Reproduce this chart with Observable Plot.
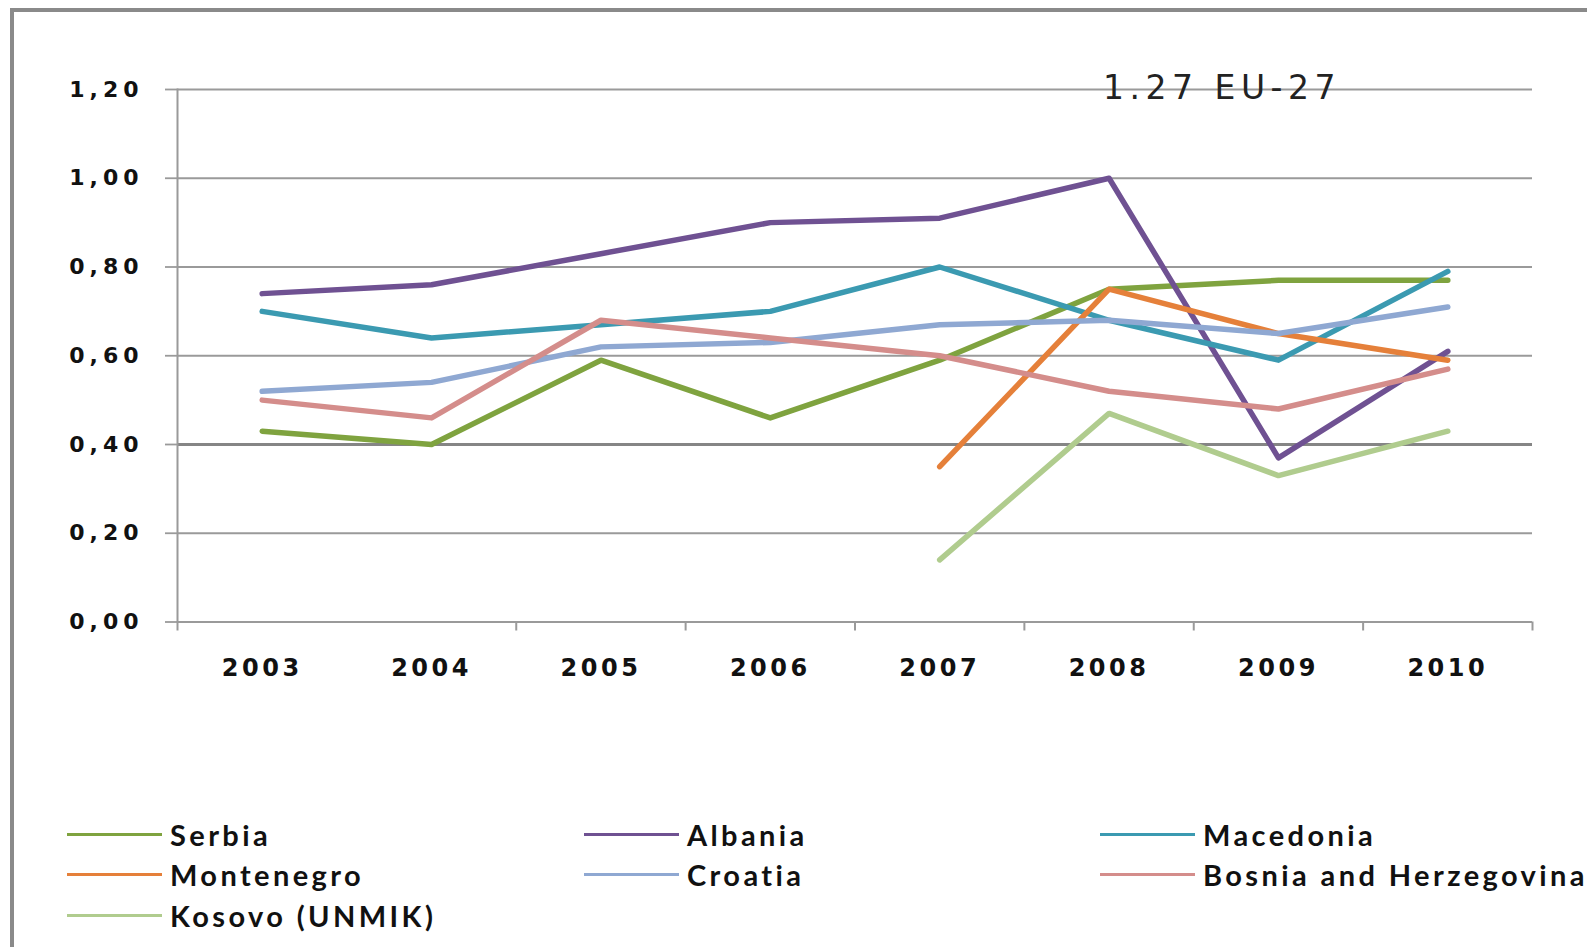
<!DOCTYPE html>
<html>
<head>
<meta charset="utf-8">
<script src="https://cdn.jsdelivr.net/npm/d3@7"></script>
<script src="https://cdn.jsdelivr.net/npm/@observablehq/plot@0.6"></script>
<style>
  body { margin: 0; background: #fff; }
  #wrap { position: relative; width: 1587px; height: 947px; overflow: hidden; background: #fff; }
  #frame { position: absolute; left: 10px; top: 8px; right: -20px; bottom: -20px;
           border-left: 4px solid #8a8a8a; border-top: 4px solid #8a8a8a; }
  #chart { position: absolute; left: 0; top: 0; }
  #chart g[aria-label="y-axis tick label"] { letter-spacing: 5px; }
  #chart g[aria-label="x-axis tick label"] { letter-spacing: 3.5px; }
  #chart g[aria-label="text"] { letter-spacing: 5.5px; }
  #legend { position: absolute; left: 67px; top: 814px; display: grid;
            grid-template-columns: 517px 516px 480px; grid-auto-rows: 40.5px; }
  .item { display: flex; align-items: center; font-family: Lato, "Open Sans", sans-serif;
          font-size: 29px; font-weight: bold; color: #111; letter-spacing: 3.4px; white-space: nowrap; }
  .swatch { width: 95px; height: 3px; margin-right: 8px; flex: none; }
</style>
</head>
<body>
<div id="wrap">
  <div id="frame"></div>
  <div id="chart"></div>
  <div id="legend"></div>
</div>
<script>
// ---- data ----
const years = [2003, 2004, 2005, 2006, 2007, 2008, 2009, 2010];
const countries = ["Serbia", "Albania", "Macedonia", "Montenegro", "Croatia", "Bosnia and Herzegovina", "Kosovo (UNMIK)"];
const serbia     = [0.43, 0.40, 0.59, 0.46, 0.59, 0.75, 0.77, 0.77];
const albania    = [0.74, 0.76, 0.83, 0.90, 0.91, 1.00, 0.37, 0.61];
const macedonia  = [0.70, 0.64, 0.67, 0.70, 0.80, 0.68, 0.59, 0.79];
const montenegro = [null, null, null, null, 0.35, 0.75, 0.65, 0.59];
const croatia    = [0.52, 0.54, 0.62, 0.63, 0.67, 0.68, 0.65, 0.71];
const bosnia     = [0.50, 0.46, 0.68, 0.64, 0.60, 0.52, 0.48, 0.57];
const kosovo     = [null, null, null, null, 0.14, 0.47, 0.33, 0.43];
const colors = ["#7fa33f", "#6f5192", "#3b9ab1", "#e5803a", "#8fa8d2", "#d48d8b", "#b0cc8e"];
const yTicks = [0, 0.2, 0.4, 0.6, 0.8, 1.0, 1.2];
const xBoundaries = [2002.5, 2004.5, 2005.5, 2006.5, 2007.5, 2008.5, 2009.5, 2010.5];
const highlightLines = [0.40];
const annotations = [{year: 2008, value: 1.2, label: "1.27 EU-27"}];

const seriesValues = [serbia, albania, macedonia, montenegro, croatia, bosnia, kosovo];
const rows = [];
countries.forEach((c, k) => {
  seriesValues[k].forEach((v, i) => {
    if (v != null) rows.push({country: c, year: years[i], value: v});
  });
});

const fmt = d => d3.format(".2f")(d).replace(".", ",");

const chart = Plot.plot({
  width: 1587,
  height: 700,
  marginLeft: 177,
  marginRight: 55,
  marginTop: 89,
  marginBottom: 78.5,
  style: {fontFamily: "DejaVu Sans, sans-serif", background: "transparent", color: "#111"},
  x: {domain: [xBoundaries[0], xBoundaries[xBoundaries.length - 1]], axis: null, label: null},
  y: {domain: [0, 1.2], axis: null, label: null},
  color: {domain: countries, range: colors},
  marks: [
    Plot.gridY(yTicks, {stroke: "#9a9a9a", strokeOpacity: 1, strokeWidth: 1.8}),
    Plot.ruleY(highlightLines, {stroke: "#858585", strokeWidth: 3}),
    Plot.frame({anchor: "left", stroke: "#9a9a9a", strokeWidth: 2}),
    Plot.axisY(yTicks, {label: null, tickSize: 12, tickPadding: 22, tickFormat: fmt, stroke: "#9a9a9a",
                        strokeWidth: 1.8, fontSize: 22, fontWeight: "bold", fill: "#111"}),
    Plot.axisX(xBoundaries, {label: null, tickSize: 9, tickFormat: () => "", stroke: "#9a9a9a", strokeWidth: 2}),
    Plot.axisX(years, {label: null, tickSize: 0, tickPadding: 37, tickFormat: d => String(d),
                       fontSize: 24, fontWeight: "bold", fill: "#111"}),
    Plot.line(rows, {x: "year", y: "value", z: "country", stroke: "country",
                     strokeWidth: 5.5, strokeLinejoin: "round", strokeLinecap: "round"}),
    Plot.text(annotations, {x: "year", y: "value", text: "label", textAnchor: "start",
                            lineAnchor: "middle", dx: -6, dy: -1, fontSize: 33, fill: "#222"})
  ]
});
document.getElementById("chart").appendChild(chart);

const legend = document.getElementById("legend");
countries.forEach((c, k) => {
  const item = document.createElement("div");
  item.className = "item";
  const sw = document.createElement("span");
  sw.className = "swatch";
  sw.style.background = colors[k];
  const label = document.createElement("span");
  label.textContent = c;
  item.appendChild(sw);
  item.appendChild(label);
  legend.appendChild(item);
});
</script>
</body>
</html>
